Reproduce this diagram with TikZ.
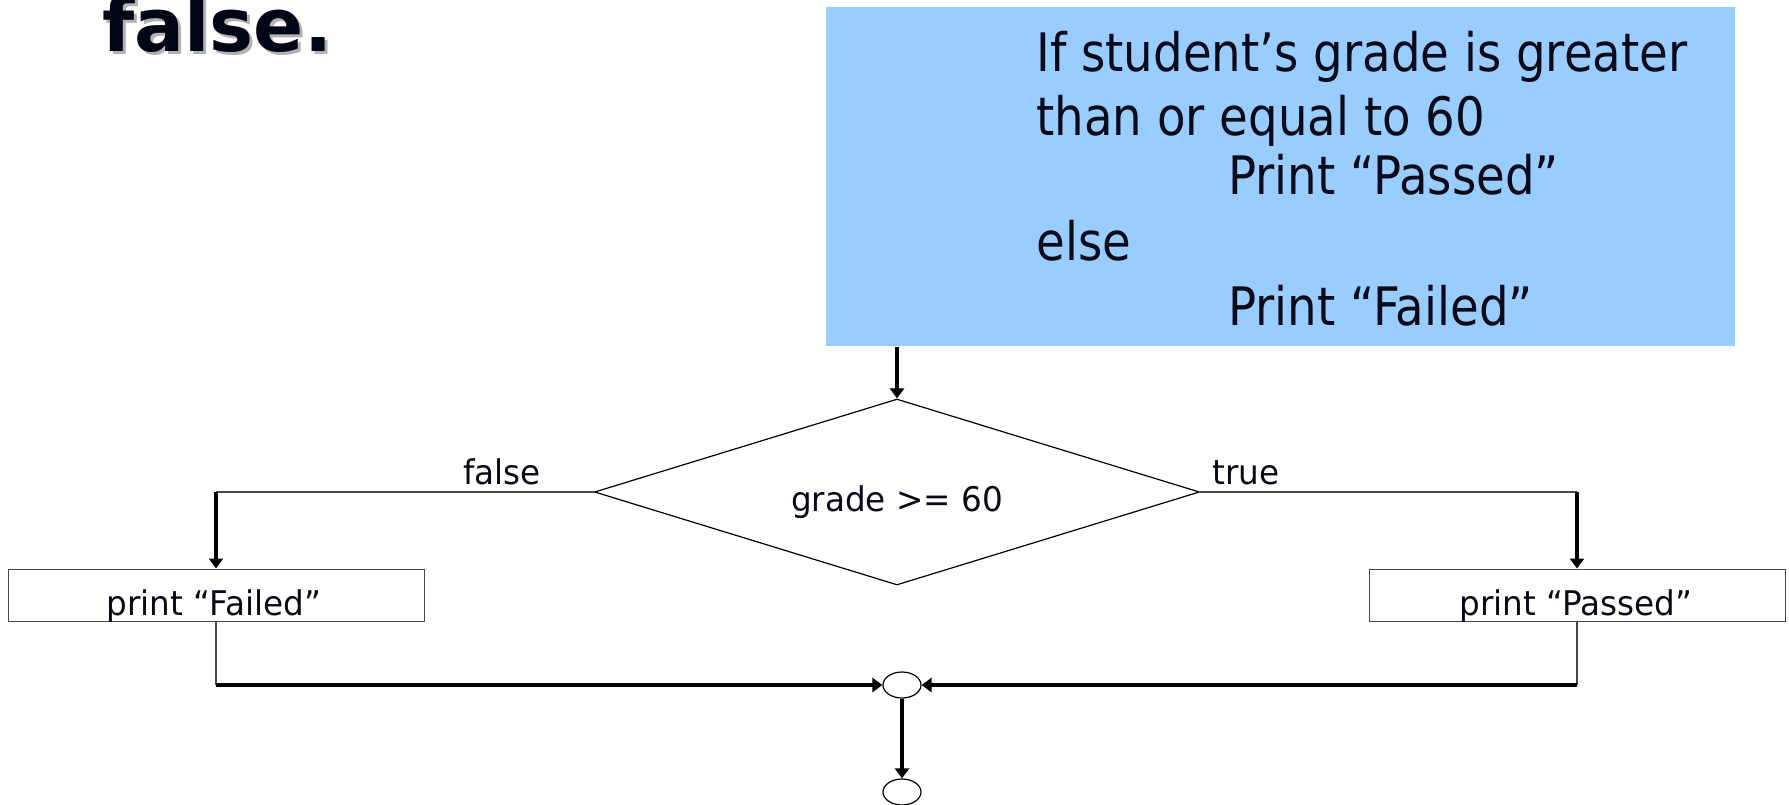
\documentclass[tikz,border=0pt]{standalone}
\usepackage{fontspec}
\usetikzlibrary{shapes.geometric,arrows.meta}
\newfontfamily\labelfont[FakeStretch=0.96]{DejaVu Sans}
\newfontfamily\notefont[FakeStretch=0.88]{DejaVu Sans}
\newfontfamily\headfont{DejaVu Sans}
\definecolor{noteblue}{RGB}{153,204,255}
\definecolor{ink}{RGB}{8,10,24}
\definecolor{headink}{RGB}{0,6,22}
\definecolor{rule}{RGB}{70,70,70}
\begin{document}
\begin{tikzpicture}[x=0.5pt,y=-0.5pt,
  thinline/.style={draw=rule,line width=0.6pt},
  flow/.style={draw=black,line width=1.6pt,-{Triangle[length=5pt,width=7pt]}},
  stepbox/.style={draw=rule,line width=0.5pt,rectangle,minimum width=208pt,minimum height=26pt,inner sep=0},
  lbl/.style={inner sep=0,text=ink,font=\labelfont\fontsize{17}{17}\selectfont},
  noteline/.style={anchor=base west,inner sep=0,text=ink,font=\notefont\fontsize{26.5}{32}\selectfont},
  joint/.style={ellipse,draw=black,line width=0.6pt,minimum width=19pt,minimum height=13pt,inner sep=0}]
\useasboundingbox (0,0) rectangle (1789,804);

% heading fragment with its drop shadow
\node[anchor=base west,inner sep=0,text=black!30,font=\headfont\bfseries\fontsize{37}{37}\selectfont] (headshadow) at (105,54) {false.};
\node[anchor=base west,inner sep=0,text=headink,font=\headfont\bfseries\fontsize{37}{37}\selectfont] (head) at (102,51) {false.};

% pseudocode note
\node[fill=noteblue,anchor=north west,minimum width=454.5pt,minimum height=169.5pt,inner sep=0] (note) at (826,7) {};
\node[noteline] (n1) at (1036,71) {If student’s grade is greater};
\node[noteline] (n2) at (1036,135) {than or equal to 60};
\node[noteline] (n3) at (1228,194) {Print “Passed”};
\node[noteline] (n4) at (1036,260) {else};
\node[noteline] (n5) at (1228,325) {Print “Failed”};

% decision
\node[diamond,draw=black,line width=0.6pt,minimum width=302.5pt,minimum height=93pt,inner sep=0] (dec) at (897,492) {};
\node[lbl] (dectext) at (897,502) {grade >= 60};
\node[lbl,anchor=base] (flab) at (502,484) {false};
\node[lbl,anchor=base] (tlab) at (1246,484) {true};

% actions
\node[stepbox] (failbox) at (216,595) {};
\node[lbl,anchor=base] (failtext) at (214,615) {print “Failed”};
\node[stepbox] (passbox) at (1577,595) {};
\node[lbl,anchor=base] (passtext) at (1576,615) {print “Passed”};

% connectors
\node[joint] (join) at (902,685) {};
\node[joint] (finish) at (902,792) {};

\draw[flow] (dec.north |- note.south) -- (dec.north);

\coordinate (lcorner) at (dec.west -| failbox.north);
\coordinate (rcorner) at (dec.east -| passbox.north);
\draw[thinline] (dec.west) -- (lcorner);
\draw[thinline] (dec.east) -- (rcorner);
\draw[flow] (lcorner) -- (failbox.north);
\draw[flow] (rcorner) -- (passbox.north);

\coordinate (lbottom) at (failbox.south |- join.west);
\coordinate (rbottom) at (passbox.south |- join.east);
\draw[thinline] (failbox.south) -- (lbottom);
\draw[thinline] (passbox.south) -- (rbottom);
\draw[flow] (lbottom) -- (join.west);
\draw[flow] (rbottom) -- (join.east);

\draw[flow] (join.south) -- (finish.north);
\end{tikzpicture}
\end{document}
